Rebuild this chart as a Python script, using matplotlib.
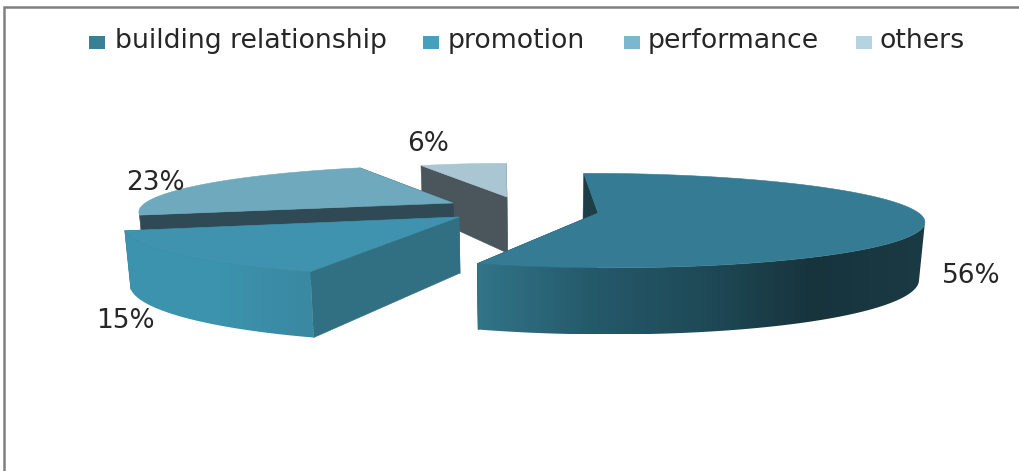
import numpy as np
import matplotlib
matplotlib.use("Agg")
import matplotlib.pyplot as plt
from matplotlib.colors import LinearSegmentedColormap
from matplotlib.patches import Polygon, Rectangle

# Chart data
categories = ["building relationship", "promotion", "performance", "others"]
shares = [56, 15, 23, 6]

# Colours per slice
legend_colors = ["#3a7f96", "#44a0bb", "#7bb8ce", "#b5d3e0"]
top_colors = ["#357b93", "#3f93ae", "#6fa9bd", "#a9c6d2"]
cut_colors = ["#1d3d47", "#316f82", "#2f4a55", "#4a555c"]
wall_stops = [
    ["#327489", "#255a6b", "#1f4a58", "#17343d", "#1a3a44"],
    ["#3c93ad", "#3c93ad", "#3a88a2"],
    ["#2f4a55", "#2f4a55"],
    ["#4a555c", "#4a555c"],
]

# Pie geometry in pixels
start_angle = 91
tips = [(598, 213), (459, 217), (453, 203), (507, 197)]
radius_x = 324
radius_y = 46
scale_x = [0.99, 1.015, 0.95, 0.82]
scale_y = [1.0, 1.08, 0.95, 0.85]
thickness = 56
persp = 0.16
vanish_x = 530
foot_shrink = 0.985


def project(i, theta):
    # Top rim of a slice, nearer points come out larger
    s = 1 / (1 + persp * np.sin(theta))
    x = vanish_x + (tips[i][0] - vanish_x + radius_x * scale_x[i] * np.cos(theta)) * s
    y = tips[i][1] - radius_y * scale_y[i] * np.sin(theta) * s
    return x, y, s


def drop(x, y, s):
    # Same points at the bottom of the wall
    return vanish_x + (x - vanish_x) * foot_shrink, y + thickness * s


def front_mask(i, theta):
    # The wall faces the viewer between the outermost left and right rim points
    circle = np.radians(np.arange(0, 360, 0.5))
    cx = project(i, circle)[0]
    sin_right = np.sin(circle[np.argmax(cx)])
    sin_left = np.sin(circle[np.argmin(cx)])
    return np.where(np.cos(theta) > 0, np.sin(theta) <= sin_right, np.sin(theta) <= sin_left)


fig = plt.figure(figsize=(10.2, 4.71), dpi=100)
ax = fig.add_axes([0, 0, 1, 1])
ax.set_xlim(0, 1020)
ax.set_ylim(471, 0)
ax.axis("off")

# Chart frame
ax.plot([4, 4, 1020], [471, 7, 7], color="#808080", lw=1.8, solid_joinstyle="miter")

# Slice angles, clockwise from the start angle
edges = start_angle - np.cumsum([0] + shares) * 3.6

# Back slices first so the front ones cover them
for i in [3, 2, 1, 0]:
    tip = tips[i]
    theta = np.radians(np.linspace(edges[i], edges[i + 1], 160))
    x, y, s = project(i, theta)
    xb, yb = drop(x, y, s)
    txb, tyb = drop(tip[0], tip[1], 1.0)
    base = i * -3 + 10

    # Cut faces on both sides of the slice
    for j in [0, -1]:
        quad = [(tip[0], tip[1]), (x[j], y[j]), (xb[j], yb[j]), (txb, tyb)]
        ax.add_patch(Polygon(quad, closed=True, fc=cut_colors[i], ec=cut_colors[i], lw=0.4, zorder=base))

    # Rounded outer wall with a horizontal gradient
    front = front_mask(i, theta)
    if front.sum() > 1:
        wall_xy = np.concatenate([np.column_stack([x[front], y[front]]),
                                  np.column_stack([xb[front], yb[front]])[::-1]])
        wall = Polygon(wall_xy, closed=True, fc="none", ec="none", zorder=base + 1)
        ax.add_patch(wall)
        cmap = LinearSegmentedColormap.from_list("wall%d" % i, wall_stops[i])
        grad = np.linspace(0, 1, 256).reshape(1, -1)
        img = ax.imshow(grad, cmap=cmap,
                        extent=(wall_xy[:, 0].min(), wall_xy[:, 0].max(), wall_xy[:, 1].max(), wall_xy[:, 1].min()),
                        aspect="auto", interpolation="bilinear", zorder=base + 1)
        img.set_clip_path(wall)

    # Top face
    top_xy = np.vstack([[tip], np.column_stack([x, y])])
    ax.add_patch(Polygon(top_xy, closed=True, fc=top_colors[i], ec=top_colors[i], lw=0.4, zorder=base + 2))

ax.set_xlim(0, 1020)
ax.set_ylim(471, 0)

# Percentage labels
label_pos = [(971, 276), (125, 321), (155, 183), (428, 144)]
for share, (lx, ly) in zip(shares, label_pos):
    ax.text(lx, ly, "%d%%" % share, ha="center", va="center", fontsize=19, color="#262626", zorder=20)

# Legend row
legend_boxes = [89, 423, 624, 856]
legend_text = [115, 448, 648, 880]
for name, color, bx, tx in zip(categories, legend_colors, legend_boxes, legend_text):
    ax.add_patch(Rectangle((bx, 36), 16, 13, fc=color, ec="none", zorder=20))
    ax.text(tx, 41, name, ha="left", va="center", fontsize=19.3, color="#262626", zorder=20)

fig.savefig("out.png", dpi=100)
